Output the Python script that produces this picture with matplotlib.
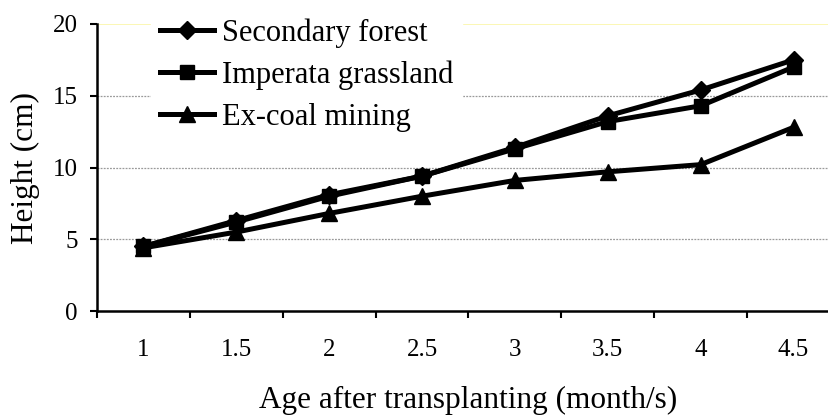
import matplotlib
matplotlib.use("Agg")
import matplotlib.pyplot as plt

ages = ["1", "1.5", "2", "2.5", "3", "3.5", "4", "4.5"]
secondary_forest = [4.5, 6.3, 8.1, 9.4, 11.4, 13.6, 15.4, 17.5]
imperata_grassland = [4.5, 6.2, 8.0, 9.4, 11.3, 13.2, 14.3, 17.0]
ex_coal_mining = [4.4, 5.5, 6.8, 8.0, 9.1, 9.7, 10.2, 12.8]
y_ticks = [0, 5, 10, 15, 20]

plt.rcParams['font.family'] = ['Liberation Serif', 'DejaVu Serif']

fig = plt.figure(figsize=(8.29, 4.16), dpi=100)
ax = fig.add_axes([97/829, 105/416, 743/829, 287/416])

x = list(range(len(ages)))
lw = 3.6
ax.plot(x, secondary_forest, color='black', lw=lw, marker='D', ms=9, label='Secondary forest', zorder=5)
ax.plot(x, imperata_grassland, color='black', lw=lw, marker='s', ms=10, label='Imperata grassland', zorder=5)
ax.plot(x, ex_coal_mining, color='black', lw=lw, marker='^', ms=11, label='Ex-coal mining', zorder=5)

ax.set_xlim(-0.5, len(ages) - 0.5)
ax.set_ylim(0, 20)

for v in y_ticks[1:-1]:
    ax.axhline(v, color='#9a9a9a', lw=0.9, ls=(0, (1.5, 1)), zorder=1)
ax.axhline(20, color='#fbf6a8', lw=1.2, zorder=1)

ax.set_xticks(x)
ax.set_xticklabels(ages, fontsize=18)
ax.set_xticks([i - 0.5 for i in range(len(ages) + 1)], minor=True)
ax.tick_params(axis='x', which='major', length=0, pad=20)
ax.tick_params(axis='x', which='minor', length=5, width=1.5, direction='out')
ax.set_yticks(y_ticks)
ax.set_yticklabels([str(v) for v in y_ticks], fontsize=18)
ax.tick_params(axis='y', length=5, width=1.5, direction='out', pad=9)

for s in ['top', 'right']:
    ax.spines[s].set_visible(False)
for s in ['left', 'bottom']:
    ax.spines[s].set_linewidth(1.8)
ax.spines['bottom'].set_zorder(6)

ax.set_xlabel('Age after transplanting (month/s)', fontsize=22.5, labelpad=18)
ax.set_ylabel('Height (cm)', fontsize=22.5, labelpad=9)

leg = fig.legend(loc='upper left', bbox_to_anchor=(151/829, 1 - 9/416),
                 fontsize=22, frameon=True, fancybox=False, framealpha=1,
                 edgecolor='white', facecolor='white', handlelength=1.75,
                 handletextpad=0.26, labelspacing=0.42, borderpad=0.3,
                 borderaxespad=0)
leg.set_zorder(10)

fig.savefig('out.png', dpi=100)
